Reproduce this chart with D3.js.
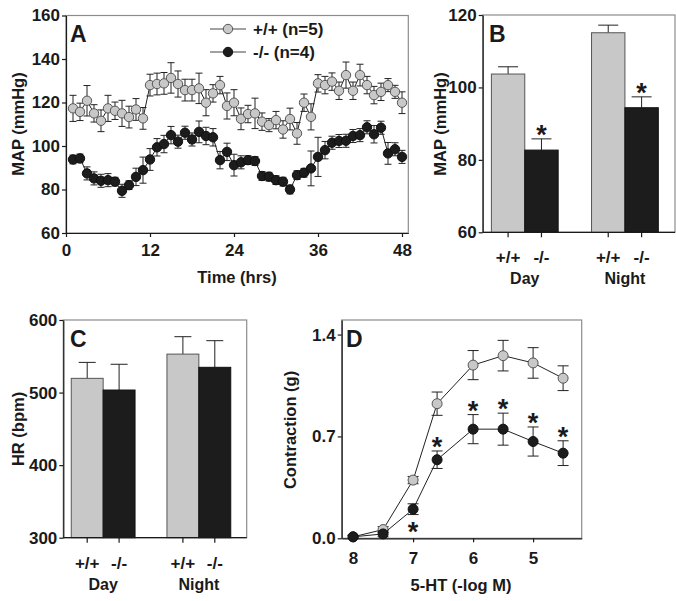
<!DOCTYPE html>
<html>
<head>
<meta charset="utf-8">
<script src="https://cdn.jsdelivr.net/npm/d3@7"></script>
<style>
    body { margin: 0; background: #fff; }
    svg text { font-family: "Liberation Sans", Arial, sans-serif; font-weight: bold; fill: #1a1a1a; }
    .frame { fill: none; stroke: #8c8c8c; stroke-width: 1.2; }
    .axis path, .axis line { stroke: #1a1a1a; stroke-width: 1.2; }
    .axis text { font-size: 17px; }
    .title { font-size: 16.5px; }
    .letter { font-size: 23px; }
    .star { font-size: 27px; }
</style>
</head>
<body>
<div id="chart"></div>
<script>

    // Panel A: 48 h telemetry, MAP (mmHg)
    var hours = [1, 2, 3, 4, 5, 6, 7, 8, 9, 10, 11, 12, 13, 14, 15, 16, 17, 18, 19, 20, 21, 22, 23, 24,
        25, 26, 27, 28, 29, 30, 31, 32, 33, 34, 35, 36, 37, 38, 39, 40, 41, 42, 43, 44, 45, 46, 47, 48];
    var mapWT = [117.3, 115.7, 120.8, 115, 111.6, 117.3, 116.2, 115, 113.3, 116.8, 112.7, 128,
        128.5, 128.8, 131.3, 128.5, 125.7, 125.7, 126.5, 119.9, 124.2, 128, 118.4, 119.9,
        112.5, 114.7, 115, 111.2, 109.6, 111.9, 107.6, 112.4, 105.8, 119.9, 113.4, 128.8,
        128, 129.6, 125.4, 132.6, 125.4, 132.6, 128, 123.4, 124.9, 128, 124.9, 119.9];
    var mapWTErr = [6, 4, 7, 4, 5, 6, 4, 6, 5, 5, 5, 5, 5, 5, 7, 6, 5, 5, 7, 6, 4, 4, 6, 6,
        5, 4, 7, 4, 3, 4, 4, 5, 5, 4, 6, 4, 4, 4, 4, 6, 4, 5, 4, 4, 4, 3, 3, 5];
    var mapKO = [93.8, 94.3, 87.4, 85.1, 84, 84.3, 83.6, 79.4, 82, 85.8, 88.9, 93.8,
        99.4, 100.9, 105, 102, 106.1, 103, 106.5, 104.6, 104, 93.5, 97.3, 91.2,
        92.5, 93.5, 93.1, 86.2, 85.9, 84.3, 83.6, 80, 86.6, 87.7, 89.7, 95,
        98.1, 101.5, 102.3, 102.4, 104.6, 105, 108.6, 105.4, 108.4, 96.6, 98.5, 95];
    var mapKOErr = [2, 2, 3, 3, 3, 3, 2, 3, 2, 4, 6, 5, 4, 4, 4, 3, 3, 3, 5, 4, 4, 4, 4, 5,
        3, 2, 2, 2, 2, 2, 2, 2, 2, 2, 8, 9, 4, 3, 3, 3, 3, 3, 3, 4, 3, 5, 3, 3];
    var mapTicks = [60, 80, 100, 120, 140, 160];
    var timeTicks = [0, 12, 24, 36, 48];
    var legendLabels = ["+/+ (n=5)", "-/- (n=4)"];

    // Panels B and C: day / night means
    var periods = ["Day", "Night"];
    var genotypes = ["+/+", "-/-"];
    var mapBarWT = [103.7, 115.1];
    var mapBarWTErr = [2.0, 2.1];
    var mapBarKO = [82.7, 94.4];
    var mapBarKOErr = [3.1, 3.0];
    var mapBarSig = [true, true];
    var mapBarTicks = [60, 80, 100, 120];
    var hrBarWT = [519.6, 553];
    var hrBarWTErr = [22, 24];
    var hrBarKO = [503.5, 534.8];
    var hrBarKOErr = [35.5, 36.7];
    var hrBarSig = [false, false];
    var hrTicks = [300, 400, 500, 600];

    // Panel D: 5-HT concentration response
    var conc = [8, 7.5, 7, 6.6, 6, 5.5, 5, 4.5];
    var contrWT = [0.01, 0.06, 0.40, 0.925, 1.19, 1.255, 1.205, 1.10];
    var contrWTErr = [0.01, 0.02, 0.025, 0.08, 0.10, 0.105, 0.105, 0.085];
    var contrKO = [0.01, 0.03, 0.20, 0.54, 0.75, 0.75, 0.665, 0.585];
    var contrKOErr = [0.01, 0.02, 0.037, 0.06, 0.10, 0.11, 0.10, 0.085];
    var contrSig = ["", "", "below", "above", "above", "above", "above", "above"];
    var contrTicks = [0, 0.7, 1.4];
    var concTicks = [8, 7, 6, 5];

    var gray = "#c8c8c8", black = "#1c1c1c";

    var svg = d3.select("#chart").append("svg")
        .attr("width", 676)
        .attr("height", 601);

    function frame(x0, x1, y0, y1) {
        svg.append("rect").attr("class", "frame")
            .attr("x", x0).attr("y", y0)
            .attr("width", x1 - x0).attr("height", y1 - y0);
    }

    function yTitle(text, x, y) {
        svg.append("text").attr("class", "title")
            .attr("text-anchor", "middle")
            .attr("transform", "translate(" + x + "," + y + ") rotate(-90)")
            .text(text);
    }

    // asterisk centred on (x, yCenter)
    function star(x, yCenter) {
        svg.append("text").attr("class", "star")
            .attr("text-anchor", "middle")
            .attr("x", x).attr("y", yCenter + 15)
            .text("*");
    }

    // points + error bars + connecting line
    function drawSeries(x, y, xs, ys, es, fill, r, capW) {
        var pts = xs.map(function (d, i) { return { x: d, y: ys[i], e: es[i] }; });
        var g = svg.append("g");
        g.append("path").datum(pts)
            .attr("d", d3.line().x(function (d) { return x(d.x); }).y(function (d) { return y(d.y); }))
            .attr("fill", "none").attr("stroke", "#222").attr("stroke-width", 1);
        var eb = g.selectAll(".eb").data(pts).join("g").attr("class", "eb")
            .attr("stroke", "#222").attr("stroke-width", 1);
        eb.append("line")
            .attr("x1", function (d) { return x(d.x); }).attr("x2", function (d) { return x(d.x); })
            .attr("y1", function (d) { return y(d.y - d.e); }).attr("y2", function (d) { return y(d.y + d.e); });
        [-1, 1].forEach(function (s) {
            eb.append("line")
                .attr("x1", function (d) { return x(d.x) - capW / 2; }).attr("x2", function (d) { return x(d.x) + capW / 2; })
                .attr("y1", function (d) { return y(d.y + s * d.e); }).attr("y2", function (d) { return y(d.y + s * d.e); });
        });
        g.selectAll("circle").data(pts).join("circle")
            .attr("cx", function (d) { return x(d.x); })
            .attr("cy", function (d) { return y(d.y); })
            .attr("r", r)
            .attr("fill", fill)
            .attr("stroke", fill === gray ? "#555" : "#111")
            .attr("stroke-width", 1);
        return g;
    }

    // ---------- A ----------
    var xA = d3.scaleLinear().domain([0, 48.9]).range([66, 408.3]);
    var yA = d3.scaleLinear().domain([60, 160]).range([233, 15.5]);
    frame(66, 408.3, 15.5, 233);
    svg.append("g").attr("class", "axis").attr("transform", "translate(66,0)")
        .call(d3.axisLeft(yA).tickValues(mapTicks).tickSize(4).tickPadding(2).tickSizeOuter(0));
    svg.append("g").attr("class", "axis").attr("transform", "translate(0,233)")
        .call(d3.axisBottom(xA).tickValues(timeTicks).tickSize(4).tickPadding(7).tickSizeOuter(0));
    drawSeries(xA, yA, hours, mapWT, mapWTErr, gray, 4.7, 7);
    drawSeries(xA, yA, hours, mapKO, mapKOErr, black, 4.7, 7);
    yTitle("MAP (mmHg)", 24, 124);
    svg.append("text").attr("class", "title").attr("text-anchor", "middle")
        .attr("x", 237).attr("y", 283).text("Time (hrs)");
    svg.append("text").attr("class", "letter").attr("x", 70).attr("y", 42).text("A");

    var leg = svg.append("g").selectAll("g").data(legendLabels).join("g")
        .attr("transform", function (d, i) { return "translate(0," + (29 + i * 23) + ")"; });
    leg.append("line").attr("x1", 210).attr("x2", 246).attr("stroke", "#444").attr("stroke-width", 1);
    leg.append("circle").attr("cx", 228).attr("r", 4.7)
        .attr("fill", function (d, i) { return i === 0 ? gray : black; })
        .attr("stroke", function (d, i) { return i === 0 ? "#555" : "#111"; });
    leg.append("text").attr("x", 253).attr("y", 6).style("font-size", "17px").text(function (d) { return d; });

    // ---------- bar panels (B, C) ----------
    function barPanel(opt) {
        var y = d3.scaleLinear().domain(opt.domain).range([opt.bottom, opt.top]);
        var xG = d3.scaleBand().domain(periods).range([opt.left - 8, opt.right]);
        var xS = d3.scaleBand().domain(genotypes).range([xG.bandwidth() / 6, xG.bandwidth() * 5 / 6]);
        frame(opt.left, opt.right, opt.top, opt.bottom);

        var rows = [];
        periods.forEach(function (p, i) {
            rows.push({ p: p, g: "+/+", v: opt.wt[i], e: opt.wtErr[i], sig: false });
            rows.push({ p: p, g: "-/-", v: opt.ko[i], e: opt.koErr[i], sig: opt.sig[i] });
        });
        var bx = function (d) { return xG(d.p) + xS(d.g); };
        var cx = function (d) { return bx(d) + xS.bandwidth() / 2; };

        var eb = svg.append("g").attr("stroke", "#222").attr("stroke-width", 1);
        eb.selectAll(".v").data(rows).join("line")
            .attr("x1", cx).attr("x2", cx)
            .attr("y1", function (d) { return y(d.v); })
            .attr("y2", function (d) { return y(d.v + d.e); });
        eb.selectAll(".c").data(rows).join("line")
            .attr("x1", function (d) { return cx(d) - opt.capW / 2; })
            .attr("x2", function (d) { return cx(d) + opt.capW / 2; })
            .attr("y1", function (d) { return y(d.v + d.e); })
            .attr("y2", function (d) { return y(d.v + d.e); });

        svg.append("g").selectAll("rect").data(rows).join("rect")
            .attr("x", bx)
            .attr("width", xS.bandwidth())
            .attr("y", function (d) { return y(d.v); })
            .attr("height", function (d) { return opt.bottom - y(d.v); })
            .attr("fill", function (d) { return d.g === "+/+" ? gray : black; })
            .attr("stroke", function (d) { return d.g === "+/+" ? "#555" : "#111"; })
            .attr("stroke-width", 1);

        rows.forEach(function (d) { if (d.sig) star(cx(d), y(d.v + d.e) - 10); });

        svg.append("g").attr("class", "axis").attr("transform", "translate(" + opt.left + ",0)")
            .call(d3.axisLeft(y).tickValues(opt.ticks).tickSize(4).tickPadding(2).tickSizeOuter(0));

        var xb = svg.append("g").attr("class", "axis");
        xb.append("line").attr("x1", opt.left).attr("x2", opt.right)
            .attr("y1", opt.bottom).attr("y2", opt.bottom);
        xb.selectAll(".t").data(rows).join("line")
            .attr("x1", cx).attr("x2", cx)
            .attr("y1", opt.bottom).attr("y2", opt.bottom + 5);
        xb.selectAll("text.g").data(rows).join("text")
            .attr("text-anchor", "middle")
            .attr("x", cx).attr("y", opt.bottom + 31)
            .text(function (d) { return d.g; });
        svg.append("g").selectAll("text").data(periods).join("text")
            .attr("text-anchor", "middle")
            .style("font-size", "16px")
            .attr("x", function (d) { return xG(d) + xG.bandwidth() / 2; })
            .attr("y", opt.bottom + 52)
            .text(function (d) { return d; });
    }

    barPanel({
        domain: [60, 120], top: 15, bottom: 232.3, left: 482.7, right: 675,
        wt: mapBarWT, wtErr: mapBarWTErr, ko: mapBarKO, koErr: mapBarKOErr, sig: mapBarSig,
        ticks: mapBarTicks, capW: 20
    });
    yTitle("MAP (mmHg)", 446, 124);
    svg.append("text").attr("class", "letter").attr("x", 489).attr("y", 42).text("B");

    barPanel({
        domain: [300, 600], top: 320, bottom: 537.7, left: 63.3, right: 246.7,
        wt: hrBarWT, wtErr: hrBarWTErr, ko: hrBarKO, koErr: hrBarKOErr, sig: hrBarSig,
        ticks: hrTicks, capW: 17
    });
    yTitle("HR (bpm)", 24, 429);
    svg.append("text").attr("class", "letter").attr("x", 70).attr("y", 347).text("C");

    // ---------- D ----------
    var xD = d3.scaleLinear().domain([8.19, 4.19]).range([341.7, 581.7]);
    var yD = d3.scaleLinear().domain([0, 1.5]).range([538.3, 320]);
    frame(341.7, 581.7, 320, 538.3);
    svg.append("g").attr("class", "axis").attr("transform", "translate(341.7,0)")
        .call(d3.axisLeft(yD).tickValues(contrTicks).tickFormat(d3.format(".1f")).tickSize(4).tickPadding(2).tickSizeOuter(0));
    svg.append("g").attr("class", "axis").attr("transform", "translate(0,538.3)")
        .call(d3.axisBottom(xD).tickValues(concTicks).tickFormat(d3.format("d")).tickSize(4).tickPadding(10).tickSizeOuter(0));
    drawSeries(xD, yD, conc, contrWT, contrWTErr, gray, 5, 11);
    drawSeries(xD, yD, conc, contrKO, contrKOErr, black, 5, 11);
    contrSig.forEach(function (s, i) {
        if (s === "above") star(xD(conc[i]), yD(contrKO[i] + contrKOErr[i]) - 10);
        if (s === "below") star(xD(conc[i]), yD(0) - 12);
    });
    yTitle("Contraction (g)", 296, 430);
    svg.append("text").attr("class", "title").attr("text-anchor", "middle")
        .attr("x", 461).attr("y", 591).text("5-HT (-log M)");
    svg.append("text").attr("class", "letter").attr("x", 346).attr("y", 347).text("D");

</script>
</body>
</html>
